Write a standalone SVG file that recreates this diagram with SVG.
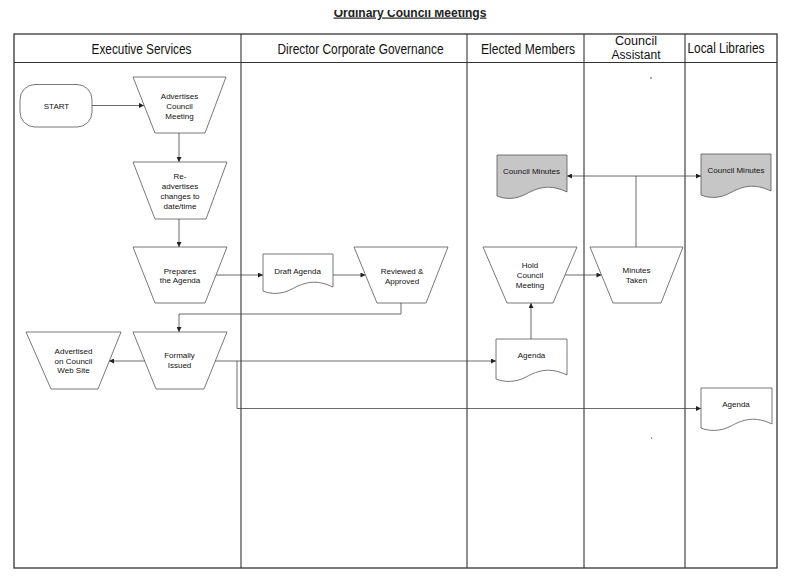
<svg xmlns="http://www.w3.org/2000/svg" width="797" height="580" viewBox="0 0 797 580">
<style>
  .frame { fill: none; stroke: #333; stroke-width: 1.3; }
  .lane { stroke: #333; stroke-width: 1.1; }
  .hdr { font-family: "Liberation Sans", Arial, sans-serif; font-size: 14px; fill: #111; text-anchor: middle; }
  .hdr2 { font-family: "Liberation Sans", Arial, sans-serif; font-size: 12px; fill: #111; text-anchor: middle; }
  .shape { fill: #fff; stroke: #555; stroke-width: 0.8; }
  .gray { fill: #c6c6c6; stroke: #555; stroke-width: 0.8; }
  .lbl { font-family: "Liberation Sans", Arial, sans-serif; font-size: 8px; fill: #111; text-anchor: middle; }
  .conn { fill: none; stroke: #444; stroke-width: 0.8; }
  .title { font-family: "Liberation Sans", Arial, sans-serif; font-size: 12px; font-weight: bold; fill: #222; text-anchor: middle; }
</style>
<defs>
  <marker id="arr" viewBox="0 0 10 10" refX="10" refY="5" markerWidth="6" markerHeight="5" markerUnits="userSpaceOnUse" orient="auto">
    <path d="M0,0 L10,5 L0,10 z" fill="#222"/>
  </marker>
  <clipPath id="titleClip"><rect x="0" y="10" width="797" height="20"/></clipPath>
</defs>
<rect width="797" height="580" fill="#fff"/>

<g id="title" clip-path="url(#titleClip)">
  <text class="title" x="410" y="16.5" text-decoration="underline">Ordinary Council Meetings</text>
</g>

<g id="swimlanes">
  <rect class="frame" x="14" y="34" width="763" height="534"/>
  <line class="lane" x1="14" y1="62.5" x2="777" y2="62.5"/>
  <line class="lane" x1="241" y1="34" x2="241" y2="568"/>
  <line class="lane" x1="467" y1="34" x2="467" y2="568"/>
  <line class="lane" x1="584" y1="34" x2="584" y2="568"/>
  <line class="lane" x1="685" y1="34" x2="685" y2="568"/>
  <text class="hdr" x="141.5" y="53.5" textLength="100" lengthAdjust="spacingAndGlyphs">Executive Services</text>
  <text class="hdr" x="360.5" y="53.5" textLength="166" lengthAdjust="spacingAndGlyphs">Director Corporate Governance</text>
  <text class="hdr" x="528" y="53.5" textLength="94" lengthAdjust="spacingAndGlyphs">Elected Members</text>
  <text class="hdr2" x="636" y="45" textLength="42" lengthAdjust="spacingAndGlyphs">Council</text>
  <text class="hdr2" x="636" y="59" textLength="49" lengthAdjust="spacingAndGlyphs">Assistant</text>
  <text class="hdr" x="726" y="53" textLength="77" lengthAdjust="spacingAndGlyphs">Local Libraries</text>
  <rect x="650" y="77.5" width="2" height="1" fill="#555"/>
  <rect x="651" y="437.5" width="1.2" height="1.2" fill="#555"/>
</g>

<g id="connectors">
  <line class="conn" x1="92" y1="105.5" x2="144" y2="105.5" marker-end="url(#arr)"/>
  <line class="conn" x1="179" y1="133" x2="179" y2="162" marker-end="url(#arr)"/>
  <line class="conn" x1="179" y1="219" x2="179" y2="247" marker-end="url(#arr)"/>
  <line class="conn" x1="216" y1="275" x2="263" y2="275" marker-end="url(#arr)"/>
  <line class="conn" x1="333" y1="275" x2="365.5" y2="275" marker-end="url(#arr)"/>
  <polyline class="conn" points="401,303 401,314 179,314 179,332" marker-end="url(#arr)"/>
  <line class="conn" x1="145" y1="361" x2="109" y2="361" marker-end="url(#arr)"/>
  <line class="conn" x1="215" y1="361" x2="496" y2="361" marker-end="url(#arr)"/>
  <polyline class="conn" points="237,361 237,408.5 701,408.5" marker-end="url(#arr)"/>
  <line class="conn" x1="531" y1="339" x2="531" y2="303" marker-end="url(#arr)"/>
  <line class="conn" x1="565" y1="275" x2="601.5" y2="275" marker-end="url(#arr)"/>
  <polyline class="conn" points="636,247 636,176 567,176" marker-end="url(#arr)"/>
  <line class="conn" x1="636" y1="176" x2="701" y2="176" marker-end="url(#arr)"/>
</g>

<g id="start">
  <rect class="shape" x="20" y="84.5" width="72" height="42.5" rx="15" ry="15"/>
  <text class="lbl" x="56.5" y="108.5">START</text>
</g>

<g id="advertises">
  <polygon class="shape" points="133,77 226,77 205,133 155,133"/>
  <text class="lbl" x="179.5" y="99">Advertises</text>
  <text class="lbl" x="179.5" y="109">Council</text>
  <text class="lbl" x="179.5" y="119">Meeting</text>
</g>

<g id="readvertises">
  <polygon class="shape" points="133,162 227,162 206,219 155,219"/>
  <text class="lbl" x="180" y="179">Re-</text>
  <text class="lbl" x="180" y="189">advertises</text>
  <text class="lbl" x="180" y="199">changes to</text>
  <text class="lbl" x="180" y="208.5">date/time</text>
</g>

<g id="prepares">
  <polygon class="shape" points="133,247 227,247 205,303 155,303"/>
  <text class="lbl" x="180" y="273.5">Prepares</text>
  <text class="lbl" x="180" y="283">the Agenda</text>
</g>

<g id="draft-agenda">
  <path class="shape" d="M263,254 H333 V287 C316,279 305,282 292,289 C281,295 270,294 263,291 Z"/>
  <text class="lbl" x="297.5" y="274">Draft Agenda</text>
</g>

<g id="reviewed">
  <polygon class="shape" points="354,247 448,247 426,303 377,303"/>
  <text class="lbl" x="402" y="274">Reviewed &amp;</text>
  <text class="lbl" x="402" y="284">Approved</text>
</g>

<g id="formally-issued">
  <polygon class="shape" points="133,332 227,332 204,389 156,389"/>
  <text class="lbl" x="179.5" y="358">Formally</text>
  <text class="lbl" x="179.5" y="368">Issued</text>
</g>

<g id="advertised-web">
  <polygon class="shape" points="26,332 121,332 98,389 51,389"/>
  <text class="lbl" x="73.5" y="354">Advertised</text>
  <text class="lbl" x="73.5" y="364">on Council</text>
  <text class="lbl" x="73.5" y="373">Web Site</text>
</g>

<g id="council-minutes-em">
  <path class="gray" d="M497,155 H567 V192 C550,184 539,187 526,194 C515,200 504,199 497,196 Z"/>
  <text class="lbl" x="531.5" y="174">Council Minutes</text>
</g>

<g id="hold-meeting">
  <polygon class="shape" points="483,247 577,247 553,303 507,303"/>
  <text class="lbl" x="530" y="268">Hold</text>
  <text class="lbl" x="530" y="278">Council</text>
  <text class="lbl" x="530" y="288">Meeting</text>
</g>

<g id="agenda-em">
  <path class="shape" d="M496,339 H567 V375 C550,367 539,370 526,377 C515,383 503,382 496,379 Z"/>
  <text class="lbl" x="531.5" y="358">Agenda</text>
</g>

<g id="minutes-taken">
  <polygon class="shape" points="590,247 683,247 661,303 613,303"/>
  <text class="lbl" x="636.5" y="273">Minutes</text>
  <text class="lbl" x="636.5" y="282.5">Taken</text>
</g>

<g id="council-minutes-ll">
  <path class="gray" d="M701,154 H771 V191 C754,183 743,186 730,193 C719,199 708,198 701,195 Z"/>
  <text class="lbl" x="736" y="173">Council Minutes</text>
</g>

<g id="agenda-ll">
  <path class="shape" d="M701,388 H772 V424 C755,416 744,419 731,426 C720,432 708,431 701,428 Z"/>
  <text class="lbl" x="736" y="407">Agenda</text>
</g>
</svg>
